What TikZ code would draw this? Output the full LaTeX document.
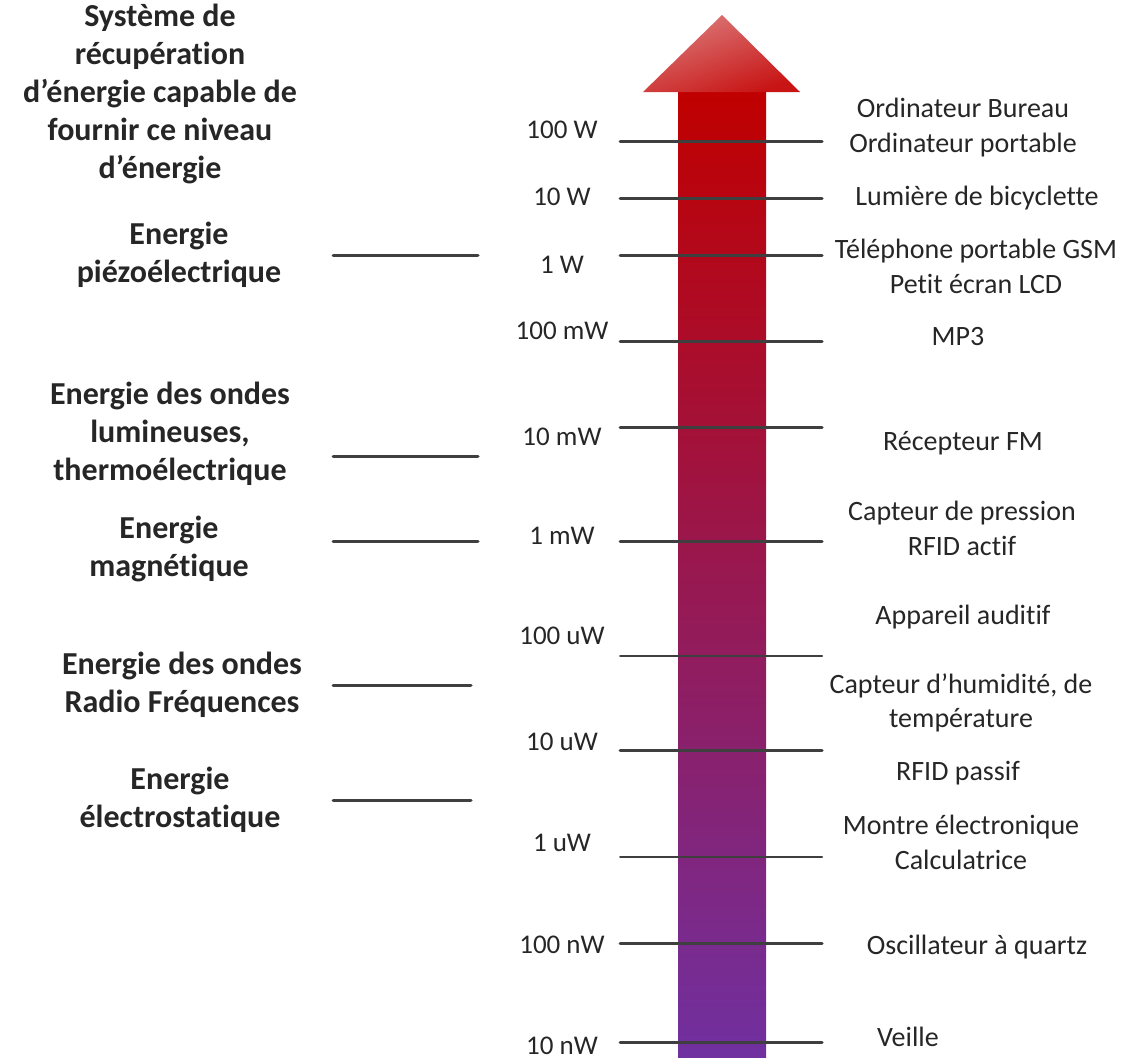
\documentclass[tikz,border=0pt]{standalone}
\usepackage{fontspec}
\setmainfont{Carlito}[Ligatures={NoCommon,NoContextual,NoRequired}]
\definecolor{arrtop}{HTML}{C00000}
\definecolor{arrbot}{HTML}{7030A0}
\definecolor{headlight}{HTML}{DC7A7A}
\definecolor{headdark}{HTML}{C81414}
\definecolor{txt}{HTML}{262626}
\definecolor{tickc}{HTML}{3F3F3F}
\begin{document}
\begin{tikzpicture}[x=1pt,y=-1pt,
  lab/.style={font=\fontsize{28}{34.5}\selectfont, align=center, inner sep=0pt, text=txt},
  val/.style={font=\fontsize{27}{33}\selectfont, inner sep=0pt, text=txt},
  src/.style={font=\fontsize{32}{38}\selectfont\bfseries, align=center, inner sep=0pt, text=txt},
  tickline/.style={line width=3pt, draw=tickc, line cap=round}]
\useasboundingbox (0,0) rectangle (1148,1060);

% arrow
\shade[top color=arrtop, bottom color=arrbot] (678,92) rectangle (766,1057);
\shade[top color=headlight, bottom color=headdark, shading angle=20]
  (643,92) -- (722,15) -- (800,92) -- cycle;

% coordinates for ticks
\foreach \n/\y in {a/141,b/198,c/255,d/341,e/427,f/541,g/656,h/750,i/857,j/943,k/1042}{
  \coordinate (L\n) at (620,\y);
  \coordinate (R\n) at (822,\y);
}
\foreach \n in {a,b,c,d,e,f,h,j,k}{ \draw[tickline] (L\n) -- (R\n); }
\foreach \n in {g,i}{ \draw[tickline, line width=2pt] (L\n) -- (R\n); }

% left source ticks
\coordinate (s1a) at (333,255); \coordinate (s1b) at (478,255);
\coordinate (s2a) at (333,456); \coordinate (s2b) at (478,456);
\coordinate (s3a) at (333,541); \coordinate (s3b) at (478,541);
\coordinate (s4a) at (333,685); \coordinate (s4b) at (471,685);
\coordinate (s5a) at (333,800); \coordinate (s5b) at (471,800);
\foreach \n in {1,...,5}{ \draw[tickline] (s\n a) -- (s\n b); }

% value labels
\node[val] (v1) at (562,130) {100 W};
\node[val] (v2) at (562,197) {10 W};
\node[val] (v3) at (562,265) {1 W};
\node[val] (v4) at (562,331) {100 mW};
\node[val] (v5) at (562,437) {10 mW};
\node[val] (v6) at (562,536) {1 mW};
\node[val] (v7) at (562,636) {100 uW};
\node[val] (v8) at (562,742) {10 uW};
\node[val] (v9) at (562,843) {1 uW};
\node[val] (v10) at (562,945) {100 nW};
\node[val] (v11) at (562,1046) {10 nW};

% right labels
\node[lab] (d1) at (963,127.5) {Ordinateur Bureau\\Ordinateur portable};
\node[lab] (d2) at (977,198) {Lumière de bicyclette};
\node[lab] (d3) at (976,266.5) {Téléphone portable GSM\\Petit écran LCD};
\node[lab] (d4) at (958,337) {MP3};
\node[lab] (d5) at (963,443) {Récepteur FM};
\node[lab] (d6) at (962,528.5) {Capteur de pression\\RFID actif};
\node[lab] (d7) at (963,617) {Appareil auditif};
\node[lab] (d8) at (961,703) {Capteur d’humidité, de\\température};
\node[lab] (d9) at (958,773) {RFID passif};
\node[lab] (d10) at (961,842.5) {Montre électronique\\Calculatrice};
\node[lab] (d11) at (977,947) {Oscillateur à quartz};
\node[lab] (d12) at (908,1037) {Veille};

% left labels
\node[src] (t0) at (160,94) {Système de\\récupération\\d’énergie capable de\\fournir ce niveau\\d’énergie};
\node[src] (t1) at (179,255) {Energie\\piézoélectrique};
\node[src] (t2) at (170,434) {Energie des ondes\\lumineuses,\\thermoélectrique};
\node[src] (t3) at (169,549) {Energie\\magnétique};
\node[src] (t4) at (182,685) {Energie des ondes\\Radio Fréquences};
\node[src] (t5) at (180,800) {Energie\\électrostatique};
\end{tikzpicture}
\end{document}
